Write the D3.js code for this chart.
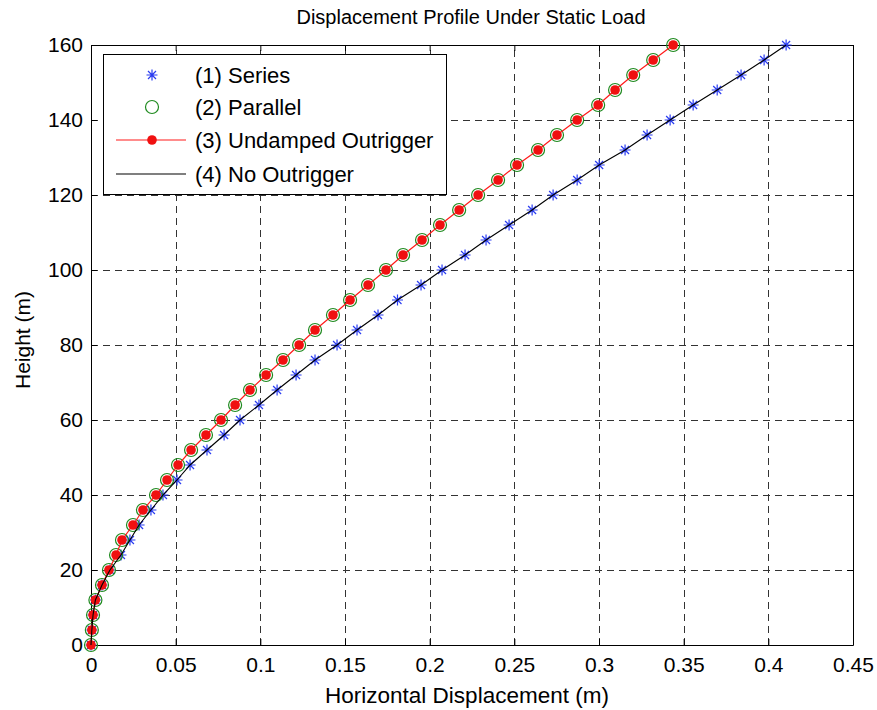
<!DOCTYPE html>
<html>
<head>
<meta charset="utf-8">
<script src="https://cdn.jsdelivr.net/npm/d3@7"></script>
<style>
  body { margin: 0; background: #fff; }
  svg text { font-family: "Liberation Sans", Arial, sans-serif; fill: #000; }
</style>
</head>
<body>
<svg id="chart" width="877" height="710"></svg>
<script>
// Heights (m), one marker every 4 m
const heights = d3.range(0, 161, 4);

// (1) Series and (4) No Outrigger lie on the same curve
const seriesDisp = [
  0, 0.0005, 0.0012, 0.0026, 0.0065, 0.0112, 0.0177, 0.0230, 0.0284, 0.0354,
  0.0425, 0.0508, 0.0585, 0.0685, 0.0786, 0.0880, 0.0992, 0.1099, 0.1211, 0.1323,
  0.1453, 0.1571, 0.1695, 0.1810, 0.1949, 0.2073, 0.2209, 0.2333, 0.2469, 0.2605,
  0.2729, 0.2871, 0.3001, 0.3154, 0.3284, 0.3420, 0.3556, 0.3698, 0.3839, 0.3975,
  0.4105
];
const noOutriggerDisp = seriesDisp.slice();

// (2) Parallel and (3) Undamped Outrigger lie on the same curve
const parallelDisp = [
  0, 0.0005, 0.0012, 0.0026, 0.0065, 0.0106, 0.0148, 0.0183, 0.0248, 0.0307,
  0.0384, 0.0449, 0.0514, 0.0591, 0.0679, 0.0768, 0.0851, 0.0939, 0.1034, 0.1134,
  0.1229, 0.1323, 0.1429, 0.1530, 0.1636, 0.1742, 0.1843, 0.1955, 0.2061, 0.2174,
  0.2286, 0.2404, 0.2516, 0.2640, 0.2752, 0.2871, 0.2995, 0.3095, 0.3202, 0.3320,
  0.3438
];
const undampedDisp = parallelDisp.slice();

const xTicks = [0, 0.05, 0.1, 0.15, 0.2, 0.25, 0.3, 0.35, 0.4, 0.45];
const yTicks = [0, 20, 40, 60, 80, 100, 120, 140, 160];
const legendLabels = ['(1) Series', '(2) Parallel', '(3) Undamped Outrigger', '(4) No Outrigger'];

const svg = d3.select('#chart');
const x = d3.scaleLinear().domain([0, 0.45]).range([91, 853]);
const y = d3.scaleLinear().domain([0, 160]).range([645, 45]);

//Grid lines.
  const grid = svg.append('g')
      .attr('stroke', '#333')
      .attr('stroke-width', 1)
      .attr('stroke-dasharray', '7,5');
  grid.selectAll('.vx')
      .data(xTicks.slice(1, -1))
      .join('line')
      .attr('x1', d => Math.round(x(d)) + 0.5)
      .attr('x2', d => Math.round(x(d)) + 0.5)
      .attr('y1', y(0))
      .attr('y2', y(160));
  grid.selectAll('.hy')
      .data(yTicks.slice(1, -1))
      .join('line')
      .attr('x1', x(0))
      .attr('x2', x(0.45))
      .attr('y1', d => Math.round(y(d)) + 0.5)
      .attr('y2', d => Math.round(y(d)) + 0.5);

//Axes with inward ticks on all four sides.
  const tickLen = 6;
  svg.append('g')
      .attr('transform', `translate(0,${y(0)})`)
      .call(d3.axisBottom(x).tickValues(xTicks).tickSizeInner(-tickLen).tickSizeOuter(0).tickPadding(12)
          .tickFormat(d => String(+d.toFixed(2))))
      .call(g => g.selectAll('text').style('font-size', '21px'));
  svg.append('g')
      .attr('transform', `translate(0,${y(160)})`)
      .call(d3.axisTop(x).tickValues(xTicks).tickSizeInner(-tickLen).tickSizeOuter(0).tickFormat(''));
  svg.append('g')
      .attr('transform', `translate(${x(0)},0)`)
      .call(d3.axisLeft(y).tickValues(yTicks).tickSizeInner(-tickLen).tickSizeOuter(0).tickPadding(8))
      .call(g => g.selectAll('text').style('font-size', '21px'));
  svg.append('g')
      .attr('transform', `translate(${x(0.45)},0)`)
      .call(d3.axisRight(y).tickValues(yTicks).tickSizeInner(-tickLen).tickSizeOuter(0).tickFormat(''));
  svg.selectAll('.domain').attr('stroke', '#000');
  svg.selectAll('.tick line').attr('stroke', '#000');

//Curves and markers.
  const line = d3.line().x(d => x(d[0])).y(d => y(d[1]));
  const pts = arr => arr.map((v, i) => [v, heights[i]]);
  const star = 'M-5.5,0H5.5M0,-5.5V5.5M-4,-4L4,4M-4,4L4,-4';

  svg.append('g').selectAll('path')
      .data(pts(seriesDisp))
      .join('path')
      .attr('d', star)
      .attr('transform', d => `translate(${x(d[0])},${y(d[1])})`)
      .attr('stroke', '#2a3cf0')
      .attr('stroke-width', 1.2)
      .attr('fill', 'none');

  svg.append('g').selectAll('circle')
      .data(pts(parallelDisp))
      .join('circle')
      .attr('cx', d => x(d[0]))
      .attr('cy', d => y(d[1]))
      .attr('r', 6.5)
      .attr('fill', 'none')
      .attr('stroke', '#1f8a1f')
      .attr('stroke-width', 1.2);

  svg.append('path')
      .datum(pts(undampedDisp))
      .attr('d', line)
      .attr('fill', 'none')
      .attr('stroke', '#ff1a1a')
      .attr('stroke-width', 1.2);
  svg.append('g').selectAll('circle')
      .data(pts(undampedDisp))
      .join('circle')
      .attr('cx', d => x(d[0]))
      .attr('cy', d => y(d[1]))
      .attr('r', 4.8)
      .attr('fill', '#f01010');

  svg.append('path')
      .datum(pts(noOutriggerDisp))
      .attr('d', line)
      .attr('fill', 'none')
      .attr('stroke', '#000')
      .attr('stroke-width', 1.1);

//Legend.
  const lg = svg.append('g');
  lg.append('rect')
      .attr('x', 103.5).attr('y', 54.5)
      .attr('width', 343).attr('height', 140)
      .attr('fill', '#fff').attr('stroke', '#000');
  const rowY = [75, 107, 140, 174];
  legendLabels.forEach((t, i) => {
      lg.append('text')
          .attr('x', 195).attr('y', rowY[i])
          .attr('dy', '0.35em')
          .style('font-size', '22px')
          .text(t);
  });
  lg.append('path').attr('d', star)
      .attr('transform', `translate(152,${rowY[0]})`)
      .attr('stroke', '#2a3cf0').attr('stroke-width', 1.2).attr('fill', 'none');
  lg.append('circle').attr('cx', 152).attr('cy', rowY[1]).attr('r', 6.5)
      .attr('fill', 'none').attr('stroke', '#1f8a1f').attr('stroke-width', 1.2);
  lg.append('line').attr('x1', 116).attr('x2', 186).attr('y1', rowY[2]).attr('y2', rowY[2])
      .attr('stroke', '#ff1a1a').attr('stroke-width', 1.2);
  lg.append('circle').attr('cx', 152).attr('cy', rowY[2]).attr('r', 4.8).attr('fill', '#f01010');
  lg.append('line').attr('x1', 116).attr('x2', 186).attr('y1', rowY[3]).attr('y2', rowY[3])
      .attr('stroke', '#000').attr('stroke-width', 1.1);

//Titles.
  svg.append('text')
      .attr('x', 471).attr('y', 17).attr('dy', '0.35em')
      .attr('text-anchor', 'middle')
      .style('font-size', '20px')
      .text('Displacement Profile Under Static Load');
  svg.append('text')
      .attr('x', 467).attr('y', 703)
      .attr('text-anchor', 'middle')
      .style('font-size', '22.5px')
      .text('Horizontal Displacement (m)');
  svg.append('text')
      .attr('transform', 'translate(23,340) rotate(-90)')
      .attr('dy', '0.35em')
      .attr('text-anchor', 'middle')
      .style('font-size', '21px')
      .text('Height (m)');
</script>
</body>
</html>
